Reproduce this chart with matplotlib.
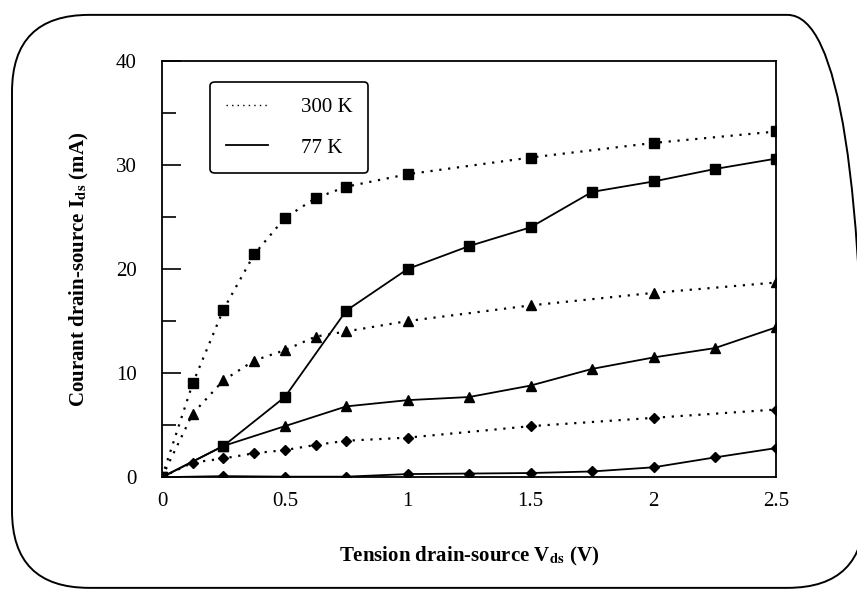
import numpy as np
import matplotlib
matplotlib.use('Agg')
import matplotlib.pyplot as plt
from matplotlib.lines import Line2D
from matplotlib.patches import FancyBboxPatch
from matplotlib.ticker import FuncFormatter

plt.rcParams['font.family'] = 'Liberation Serif'
plt.rcParams['mathtext.fontset'] = 'stix'

# tension drain-source (V)
vds_300 = [0, 0.125, 0.25, 0.375, 0.5, 0.625, 0.75, 1.0, 1.5, 2.0, 2.5]
vds_77 = [0, 0.25, 0.5, 0.75, 1.0, 1.25, 1.5, 1.75, 2.0, 2.25, 2.5]

# courant (mA) a 300 K, trait pointille
ids_300_sq = [0, 9.0, 16.1, 21.4, 24.9, 26.8, 27.9, 29.1, 30.7, 32.1, 33.2]
ids_300_tri = [0, 6.1, 9.3, 11.2, 12.2, 13.5, 14.0, 15.0, 16.5, 17.7, 18.7]
ids_300_dia = [0, 1.4, 1.8, 2.3, 2.6, 3.1, 3.5, 3.8, 4.9, 5.7, 6.5]

# courant (mA) a 77 K, trait plein
ids_77_sq = [0, 3.0, 7.7, 16.0, 20.0, 22.2, 24.0, 27.4, 28.4, 29.6, 30.6]
ids_77_tri = [0, 3.0, 4.9, 6.8, 7.4, 7.7, 8.8, 10.4, 11.5, 12.4, 14.4]
ids_77_dia = [0, 0.1, 0.05, 0.05, 0.3, 0.35, 0.4, 0.55, 0.95, 1.9, 2.8]

x_ticks = [0, 0.5, 1, 1.5, 2, 2.5]
y_ticks = [0, 10, 20, 30, 40]

fig = plt.figure(figsize=(8.57, 5.95), dpi=100)
ax = fig.add_axes([0.189, 0.198, 0.717, 0.70])

dot = (0, (1, 3))
ms = 7
ax.plot(vds_300, ids_300_sq, color='black', ls=dot, lw=1.6, marker='s', ms=ms)
ax.plot(vds_300, ids_300_tri, color='black', ls=dot, lw=1.6, marker='^', ms=ms)
ax.plot(vds_300, ids_300_dia, color='black', ls=dot, lw=1.6, marker='D', ms=5.5)
ax.plot(vds_77, ids_77_sq, color='black', ls='-', lw=1.3, marker='s', ms=ms)
ax.plot(vds_77, ids_77_tri, color='black', ls='-', lw=1.3, marker='^', ms=ms)
ax.plot(vds_77, ids_77_dia, color='black', ls='-', lw=1.3, marker='D', ms=5.5)

ax.set_xlim(0, 2.5)
ax.set_ylim(0, 40)
ax.set_xticks(x_ticks)
ax.set_yticks(y_ticks)
ax.set_yticks([5, 15, 25, 35], minor=True)
ax.xaxis.set_major_formatter(FuncFormatter(lambda v, p: ('%g' % v)))
ax.tick_params(axis='both', direction='in', labelsize=15, color='black')
ax.tick_params(axis='y', which='major', length=14, width=1.2, pad=18)
ax.tick_params(axis='y', which='minor', length=10, width=1.2, direction='in')
ax.tick_params(axis='x', which='major', length=0, pad=11)
for s in ax.spines.values():
    s.set_linewidth(1.3)

ax.set_xlabel(r'Tension drain-source V$_{\mathbf{ds}}$ (V)', fontsize=15,
              fontweight='bold', labelpad=24)
ax.set_ylabel(r'Courant drain-source I$_{\mathbf{ds}}$ (mA)', fontsize=15,
              fontweight='bold', labelpad=18)

handles = [Line2D([], [], color='black', ls=dot, lw=1.0),
           Line2D([], [], color='black', ls='-', lw=1.3)]
leg = ax.legend(handles, ['300 K', '77 K'], loc='upper left',
                bbox_to_anchor=(0.062, 0.974), fontsize=15, frameon=True,
                fancybox=True, edgecolor='black', handlelength=2.0,
                handletextpad=1.6, borderpad=0.75, labelspacing=1.0)
leg.get_frame().set_linewidth(1.2)
leg.get_frame().set_alpha(1)

# cadre arrondi autour de la figure (coupe a droite comme sur le scan)
frame = FancyBboxPatch((0.014, 0.012), 0.995, 0.963, transform=fig.transFigure,
                       boxstyle='round,pad=0,rounding_size=0.09',
                       fill=False, edgecolor='black', lw=1.4,
                       mutation_aspect=857 / 595)
fig.patches.append(frame)

fig.savefig('out.png', dpi=100)
